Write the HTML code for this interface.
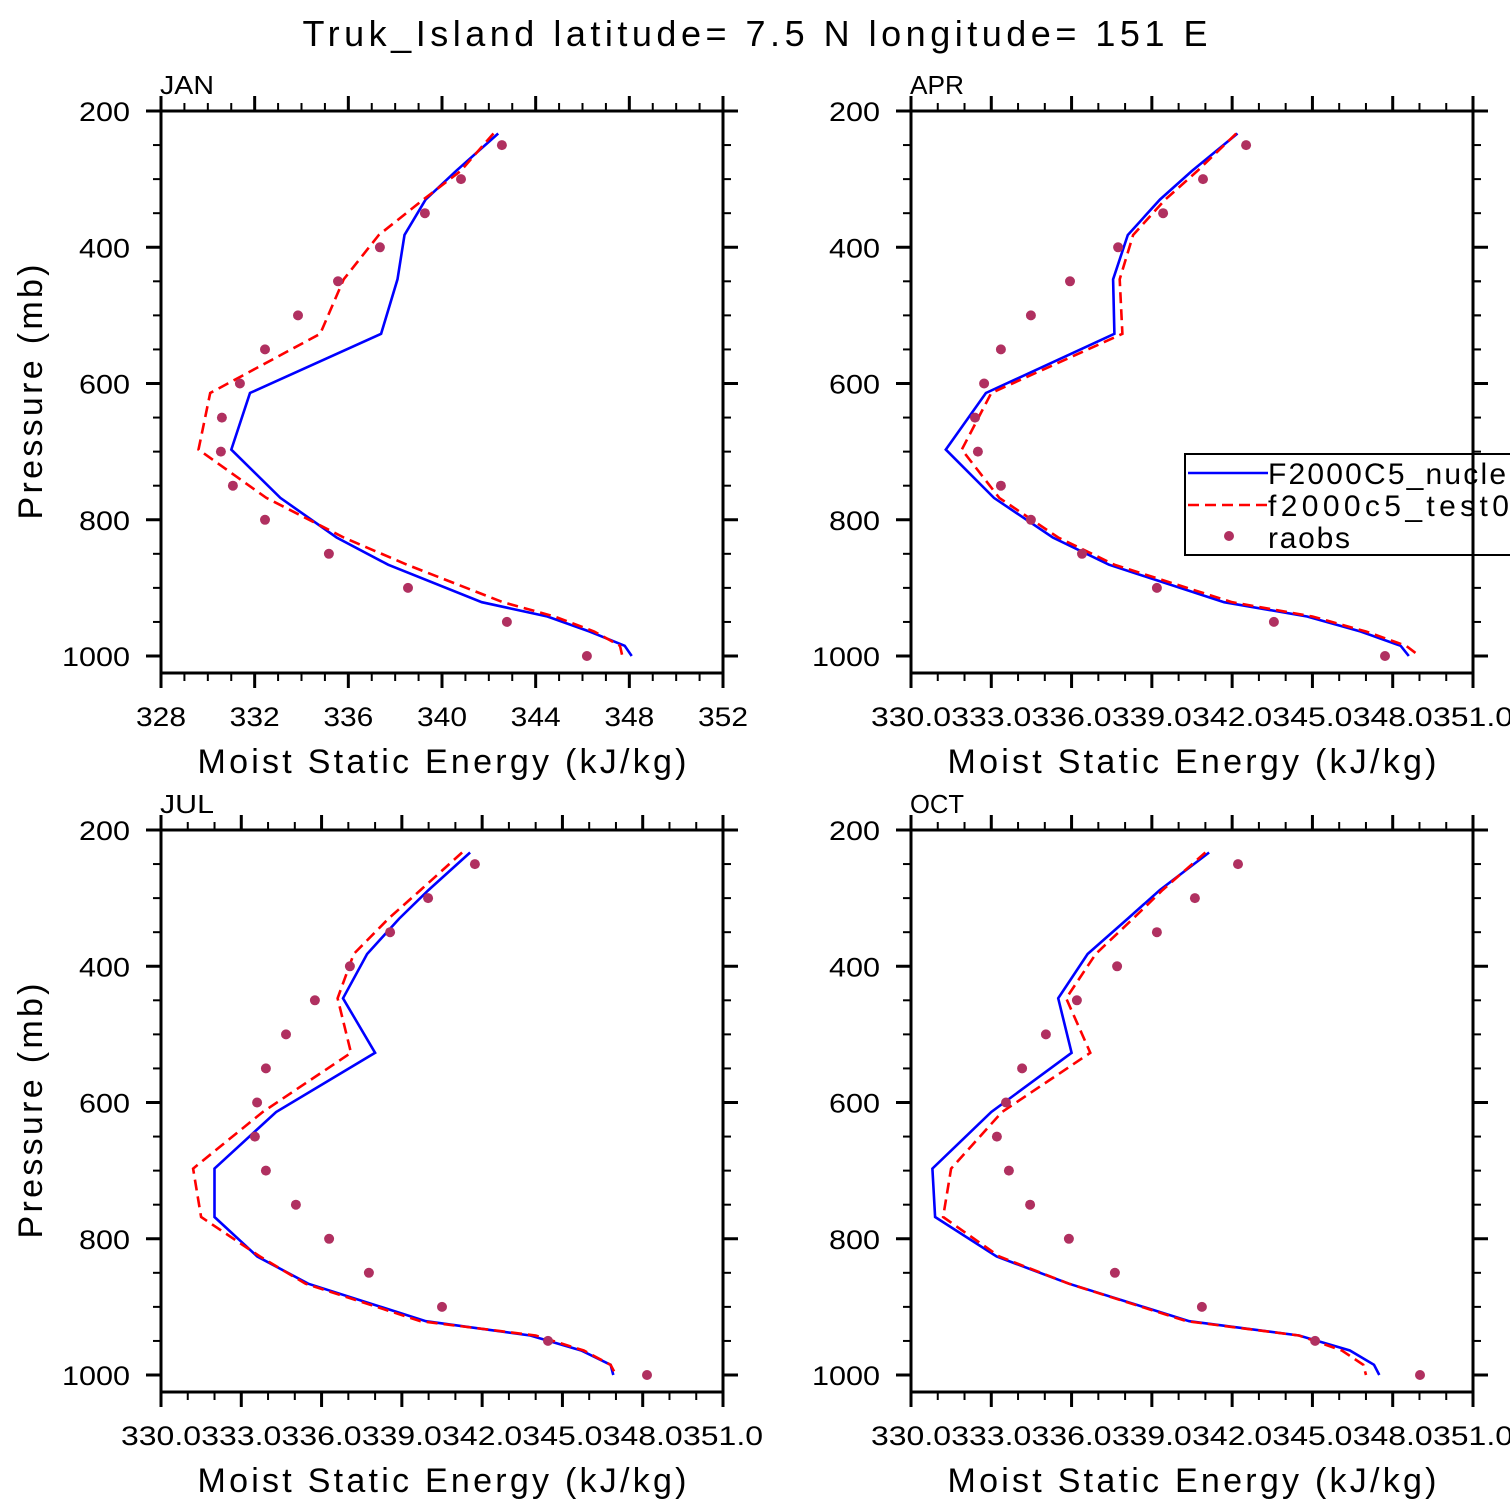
<!DOCTYPE html>
<html><head><meta charset="utf-8"><style>
html,body{margin:0;padding:0;background:#fff;}
svg{display:block;font-family:"Liberation Sans","DejaVu Sans",sans-serif;}
</style></head><body>
<svg id="fig" width="1510" height="1510" viewBox="0 0 1510 1510" xmlns="http://www.w3.org/2000/svg">
<text x="755" y="46" font-size="36" text-anchor="middle" textLength="905" lengthAdjust="spacing">Truk_Island  latitude= 7.5 N longitude= 151 E</text>
</svg>
<script>
// pressure levels (mb) of model profiles
const levels = [233, 288, 330, 382, 447, 527, 614, 697, 768, 826, 866, 921, 942, 964, 985, 1000];
const obsLevels = [250, 300, 350, 400, 450, 500, 550, 600, 650, 700, 750, 800, 850, 900, 950, 1000];
const yTicks = [200, 400, 600, 800, 1000];
const panelNames = ["JAN", "APR", "JUL", "OCT"];

const janNucle = [342.4, 340.6, 339.3, 338.4, 338.1, 337.4, 331.8, 331.0, 333.1, 335.5, 337.7, 341.7, 344.5, 346.3, 347.8, 348.1];
const janTest = [342.2, 340.8, 339.2, 337.3, 335.8, 334.8, 330.1, 329.6, 332.5, 335.8, 338.5, 342.6, 344.8, 346.5, 347.6, 347.7];
const janObs = [342.56, 340.81, 339.27, 337.35, 335.56, 333.85, 332.44, 331.37, 330.6, 330.56, 331.07, 332.44, 335.17, 338.55, 342.77, 346.19];

const aprNucle = [342.2, 340.5, 339.3, 338.1, 337.55, 337.6, 332.8, 331.3, 333.1, 335.3, 337.4, 341.7, 344.8, 346.8, 348.3, 348.6];
const aprTest = [342.15, 340.7, 339.5, 338.3, 337.8, 337.9, 333.0, 331.9, 333.3, 335.5, 337.6, 342.0, 345.0, 347.0, 348.5, 349.0];
const aprObs = [342.52, 340.91, 339.42, 337.74, 335.94, 334.48, 333.36, 332.73, 332.39, 332.5, 333.36, 334.48, 336.39, 339.19, 343.56, 347.71];

const julNucle = [341.55, 340.0, 338.9, 337.7, 336.8, 338.0, 334.3, 332.0, 332.0, 333.6, 335.5, 339.9, 343.8, 345.7, 346.8, 346.9];
const julTest = [341.25, 339.7, 338.5, 337.2, 336.6, 337.1, 333.8, 331.2, 331.5, 333.7, 335.4, 339.7, 344.0, 345.8, 346.8, 347.0];
const julObs = [341.73, 339.98, 338.56, 337.06, 335.75, 334.67, 333.92, 333.59, 333.51, 333.92, 335.04, 336.28, 337.77, 340.5, 344.46, 348.16];

const octNucle = [341.14, 339.3, 338.1, 336.6, 335.5, 336.0, 333.0, 330.8, 330.9, 333.2, 335.9, 340.4, 344.5, 346.4, 347.3, 347.5];
const octTest = [341.0, 339.4, 338.3, 336.9, 335.8, 336.7, 333.4, 331.5, 331.2, 333.3, 335.9, 340.3, 344.5, 346.1, 346.9, 347.0];
const octObs = [342.22, 340.61, 339.19, 337.7, 336.2, 335.04, 334.15, 333.55, 333.21, 333.66, 334.45, 335.9, 337.62, 340.87, 345.1, 349.02];

const janXTicks = [328, 332, 336, 340, 344, 348, 352];
const otherXTicks = [330, 333, 336, 339, 342, 345, 348, 351];

const NS = "http://www.w3.org/2000/svg";
const svg = document.getElementById("fig");
function mk(tag, attrs, parent) {
  const e = document.createElementNS(NS, tag);
  for (const k in attrs) e.setAttribute(k, attrs[k]);
  (parent || svg).appendChild(e);
  return e;
}

const panels = [
  {name: "jan", x0: 161, y0: 111, xmin: 328, xmax: 352, xt: janXTicks, minor: 1, dec: 0, nucle: janNucle, test: janTest, obs: janObs, label: panelNames[0]},
  {name: "apr", x0: 911, y0: 111, xmin: 330, xmax: 351, xt: otherXTicks, minor: 1, dec: 1, nucle: aprNucle, test: aprTest, obs: aprObs, label: panelNames[1]},
  {name: "jul", x0: 161, y0: 830, xmin: 330, xmax: 351, xt: otherXTicks, minor: 1, dec: 1, nucle: julNucle, test: julTest, obs: julObs, label: panelNames[2]},
  {name: "oct", x0: 911, y0: 830, xmin: 330, xmax: 351, xt: otherXTicks, minor: 1, dec: 1, nucle: octNucle, test: octTest, obs: octObs, label: panelNames[3]}
];
const W = 562, H = 562;
const pxPerMb = 0.68125;

panels.forEach(function (p, idx) {
  const g = mk("g", {});
  
  
  const xs = v => p.x0 + (v - p.xmin) / (p.xmax - p.xmin) * W;
  const ys = pr => p.y0 + (pr - 200) * pxPerMb;
  const clipId = "clip" + idx;
  const cp = mk("clipPath", {id: clipId}, g);
  mk("rect", {x: p.x0, y: p.y0, width: W, height: H}, cp);

  function line(vals, color, dash, nm) {
    const d = vals.map((v, i) => (i ? "L" : "M") + xs(v).toFixed(1) + " " + ys(levels[i]).toFixed(1)).join(" ");
    const el = mk("path", {d: d, fill: "none", stroke: color, "stroke-width": 2.6, "stroke-dasharray": dash, "clip-path": "url(#" + clipId + ")"}, g);
    
    
  }
  line(p.nucle, "#0000ff", "none", p.name + "-f2000c5-nucle-line");
  line(p.test, "#ff0000", "11 6", p.name + "-f2000c5-test05-line");
  p.obs.forEach(function (v, i) {
    const c = mk("circle", {cx: xs(v).toFixed(1), cy: ys(obsLevels[i]).toFixed(1), r: 5, fill: "#b03060"}, g);
    
    
  });

  const fr = mk("rect", {x: p.x0, y: p.y0, width: W, height: H, fill: "none", stroke: "#000", "stroke-width": 3}, g);
  
  

  const yb = p.y0 + H;
  for (let pr = 200; pr <= 1000; pr += 50) {
    const y = ys(pr), major = pr % 200 === 0, L = major ? 15 : 8, sw = major ? 3 : 2;
    mk("line", {x1: p.x0 - L, y1: y, x2: p.x0, y2: y, stroke: "#000", "stroke-width": sw}, g);
    mk("line", {x1: p.x0 + W, y1: y, x2: p.x0 + W + L, y2: y, stroke: "#000", "stroke-width": sw}, g);
  }
  yTicks.forEach(function (pr) {
    const s = String(pr);
    const t = mk("text", {x: p.x0 - 31, y: ys(pr) + 10, "font-size": 27, "text-anchor": "end", textLength: s.length * 17, lengthAdjust: "spacingAndGlyphs"}, g);
    t.textContent = s;
    
    
  });
  for (let v = p.xmin; v <= p.xmax + 1e-6; v += p.minor) {
    const x = xs(v);
    const major = p.xt.indexOf(v) >= 0, L = major ? 15 : 8, sw = major ? 3 : 2;
    mk("line", {x1: x, y1: p.y0 - L, x2: x, y2: p.y0, stroke: "#000", "stroke-width": sw}, g);
    mk("line", {x1: x, y1: yb, x2: x, y2: yb + L, stroke: "#000", "stroke-width": sw}, g);
  }
  p.xt.forEach(function (v) {
    const attrs = {x: xs(v), y: yb + 53, "font-size": 27, "text-anchor": "middle", lengthAdjust: "spacingAndGlyphs"};
    attrs.textLength = p.dec ? 80 : 50;
    const t = mk("text", attrs, g);
    t.textContent = v.toFixed(p.dec);
    
    
  });
  const xt = mk("text", {x: p.x0 + W / 2, y: yb + 100, "font-size": 34, "text-anchor": "middle", textLength: 489, lengthAdjust: "spacing"}, g);
  xt.textContent = "Moist Static Energy (kJ/kg)";
  
  
  if (p.x0 < 500) {
    const cy = p.y0 + 281;
    const yt = mk("text", {x: 42, y: cy, "font-size": 34, "text-anchor": "middle", textLength: 255, lengthAdjust: "spacing", transform: "rotate(-90 42 " + cy + ")"}, g);
    yt.textContent = "Pressure (mb)";
    
    
  }
  const lb = mk("text", {x: p.x0 - 1, y: p.y0 - 17, "font-size": 26, textLength: p.label.length * 18, lengthAdjust: "spacingAndGlyphs"}, g);
  lb.textContent = p.label;
  
  
});

// legend (in APR panel)
const lg = mk("g", {});


mk("rect", {x: 1185, y: 454, width: 340, height: 101, fill: "#fff", stroke: "#000", "stroke-width": 2}, lg);
const e1 = mk("line", {x1: 1188, y1: 473, x2: 1268, y2: 473, stroke: "#0000ff", "stroke-width": 2.6}, lg);


const e2 = mk("line", {x1: 1188, y1: 505, x2: 1268, y2: 505, stroke: "#ff0000", "stroke-width": 2.6, "stroke-dasharray": "11 6"}, lg);


const e3 = mk("circle", {cx: 1229, cy: 536, r: 5, fill: "#b03060"}, lg);


[["F2000C5_nucle", 484, 238], ["f2000c5_test05", 516, 262], ["raobs", 548, 82]].forEach(function (a) {
  const t = mk("text", {x: 1268, y: a[1], "font-size": 30, textLength: a[2], lengthAdjust: "spacing"}, lg);
  t.textContent = a[0];
  
  
});
mk("line", {x1: 1473, y1: 440, x2: 1473, y2: 570, stroke: "#000", "stroke-width": 3});
[450, 500, 550].forEach(function (pr) {
  const y = 111 + (pr - 200) * pxPerMb;
  mk("line", {x1: 1473, y1: y, x2: 1481, y2: y, stroke: "#000", "stroke-width": 2});
});
</script>
</body></html>
